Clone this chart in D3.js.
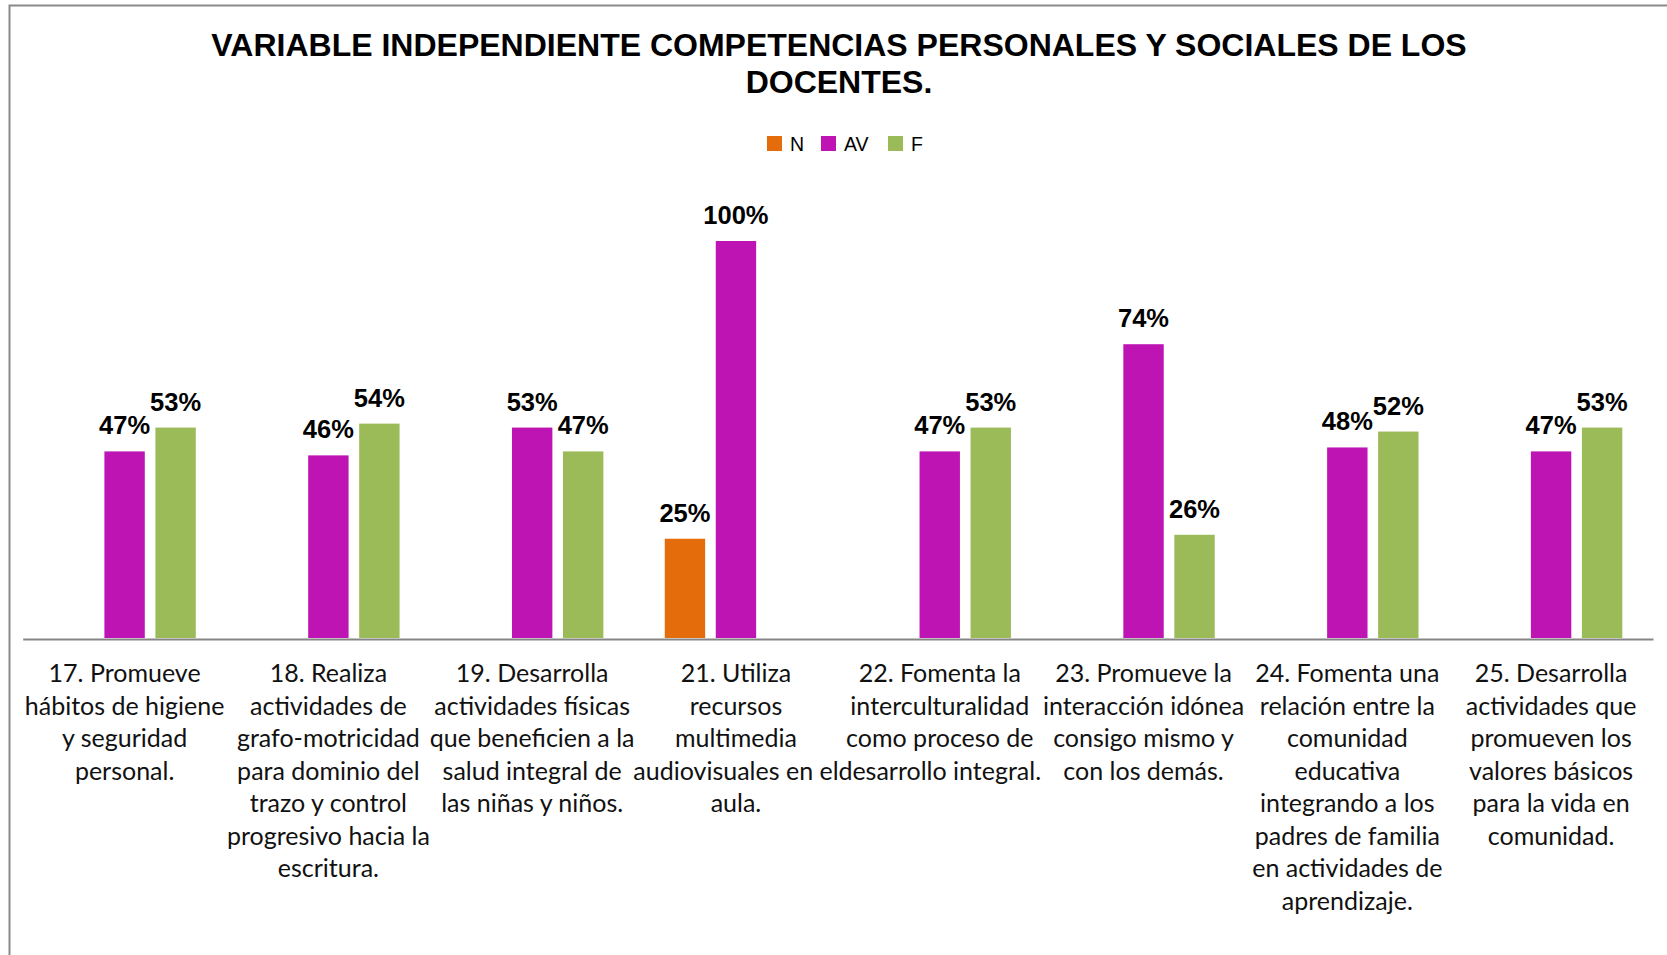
<!DOCTYPE html>
<html>
<head>
<meta charset="utf-8">
<script src="https://cdn.jsdelivr.net/npm/d3@7"></script>
<style>
  body { margin: 0; background: #fff; }
  svg { display: block; }
</style>
</head>
<body>
<div id="chart"></div>
<script>
// chart data
var categories = [
	["17. Promueve", "hábitos de higiene", "y seguridad", "personal."],
	["18. Realiza", "actividades de", "grafo-motricidad", "para dominio del", "trazo y control", "progresivo hacia la", "escritura."],
	["19. Desarrolla", "actividades físicas", "que beneficien a la", "salud integral de", "las niñas y niños."],
	["21. Utiliza", "recursos", "multimedia", "audiovisuales en el", "aula."],
	["22. Fomenta la", "interculturalidad", "como proceso de", "desarrollo integral."],
	["23. Promueve la", "interacción idónea", "consigo mismo y", "con los demás."],
	["24. Fomenta una", "relación entre la", "comunidad", "educativa", "integrando a los", "padres de familia", "en actividades de", "aprendizaje."],
	["25. Desarrolla", "actividades que", "promueven los", "valores básicos", "para la vida en", "comunidad."]
];
var seriesNames = ["N", "AV", "F"];
var valuesN  = [0, 0, 0, 0.25, 0, 0, 0, 0];
var valuesAV = [0.47, 0.46, 0.53, 1.00, 0.47, 0.74, 0.48, 0.47];
var valuesF  = [0.53, 0.54, 0.47, 0, 0.53, 0.26, 0.52, 0.53];
var seriesColors = ["#E46C0A", "#BE14B4", "#9BBB59"];
var titleLines = ["VARIABLE INDEPENDIENTE COMPETENCIAS PERSONALES Y SOCIALES DE LOS", "DOCENTES."];

var width = 1667, height = 955;
var plot = { left: 22.7, right: 1653, top: 161.6, bottom: 638 };

var svg = d3.select('#chart').append('svg')
	.attr('width', width)
	.attr('height', height);

svg.append('rect')
	.attr('width', width).attr('height', height)
	.attr('fill', '#fff');

// outer frame (right and bottom edges fall outside the picture)
svg.append('rect')
	.attr('x', 9.5).attr('y', 5.5)
	.attr('width', width + 20).attr('height', height + 20)
	.attr('fill', 'none')
	.attr('stroke', '#8a8a8a')
	.attr('stroke-width', 2);

// title
svg.append('text')
	.attr('text-anchor', 'middle')
	.attr('font-family', '"Liberation Sans", Arial, sans-serif')
	.attr('font-weight', 'bold')
	.attr('font-size', 32)
	.attr('fill', '#000')
	.selectAll('tspan')
	.data(titleLines)
	.enter().append('tspan')
	.attr('x', 839)
	.attr('y', function(d, i) { return 55.5 + i * 37.5; })
	.text(function(d) { return d; });

// legend
var legendX = [767, 821, 888];
var lg = svg.append('g').attr('class', 'legend');
var li = lg.selectAll('g')
	.data(seriesNames)
	.enter().append('g')
	.attr('transform', function(d, i) { return 'translate(' + legendX[i] + ',136)'; });
li.append('rect')
	.attr('width', 15).attr('height', 15)
	.attr('fill', function(d, i) { return seriesColors[i]; });
li.append('text')
	.attr('x', 23).attr('y', 14.7)
	.attr('font-family', '"Liberation Sans", Arial, sans-serif')
	.attr('font-size', 19.5)
	.attr('fill', '#000')
	.text(function(d) { return d; });

// scales
var catIndex = d3.range(categories.length);
var x0 = d3.scaleBand()
	.domain(catIndex)
	.range([plot.left, plot.right])
	.padding(0);
var x1 = d3.scaleBand()
	.domain(seriesNames)
	.range([0, x0.bandwidth()])
	.paddingInner(0.208)
	.paddingOuter(0.602);
var y = d3.scaleLinear()
	.domain([0, 1.2])
	.range([plot.bottom, plot.top]);

var allValues = [valuesN, valuesAV, valuesF];
var rows = [];
catIndex.forEach(function(c) {
	seriesNames.forEach(function(s, si) {
		rows.push({ cat: c, series: s, si: si, value: allValues[si][c] });
	});
});
var shown = rows.filter(function(d) { return d.value > 0; });

// bars
svg.append('g').attr('class', 'bars')
	.selectAll('rect')
	.data(shown)
	.enter().append('rect')
	.attr('x', function(d) { return x0(d.cat) + x1(d.series); })
	.attr('y', function(d) { return y(d.value); })
	.attr('width', x1.bandwidth())
	.attr('height', function(d) { return y(0) - y(d.value); })
	.attr('fill', function(d) { return seriesColors[d.si]; });

// value labels
var fmt = d3.format('.0%');
svg.append('g').attr('class', 'labels')
	.selectAll('text')
	.data(shown)
	.enter().append('text')
	.attr('x', function(d) { return x0(d.cat) + x1(d.series) + x1.bandwidth() / 2; })
	.attr('y', function(d) { return y(d.value) - 17; })
	.attr('text-anchor', 'middle')
	.attr('font-family', '"Liberation Sans", Arial, sans-serif')
	.attr('font-weight', 'bold')
	.attr('font-size', 25.5)
	.attr('fill', '#000')
	.text(function(d) { return fmt(d.value); });

// category axis
var axis = svg.append('g')
	.attr('class', 'x-axis')
	.attr('transform', 'translate(0,' + (plot.bottom + 1) + ')')
	.call(d3.axisBottom(x0).tickSize(0).tickFormat(''));
axis.select('.domain')
	.attr('stroke', '#868686')
	.attr('stroke-width', 1.8);

axis.selectAll('.tick text').remove();
axis.selectAll('.tick')
	.append('text')
	.attr('text-anchor', 'middle')
	.attr('font-family', 'Lato, "Open Sans", sans-serif')
	.attr('font-size', 25)
	.attr('fill', '#111')
	.each(function(c) {
		var t = d3.select(this);
		categories[c].forEach(function(line, i) {
			t.append('tspan')
				.attr('x', 0)
				.attr('y', 43 + i * 32.5)
				.text(line);
		});
	});
</script>
</body>
</html>
